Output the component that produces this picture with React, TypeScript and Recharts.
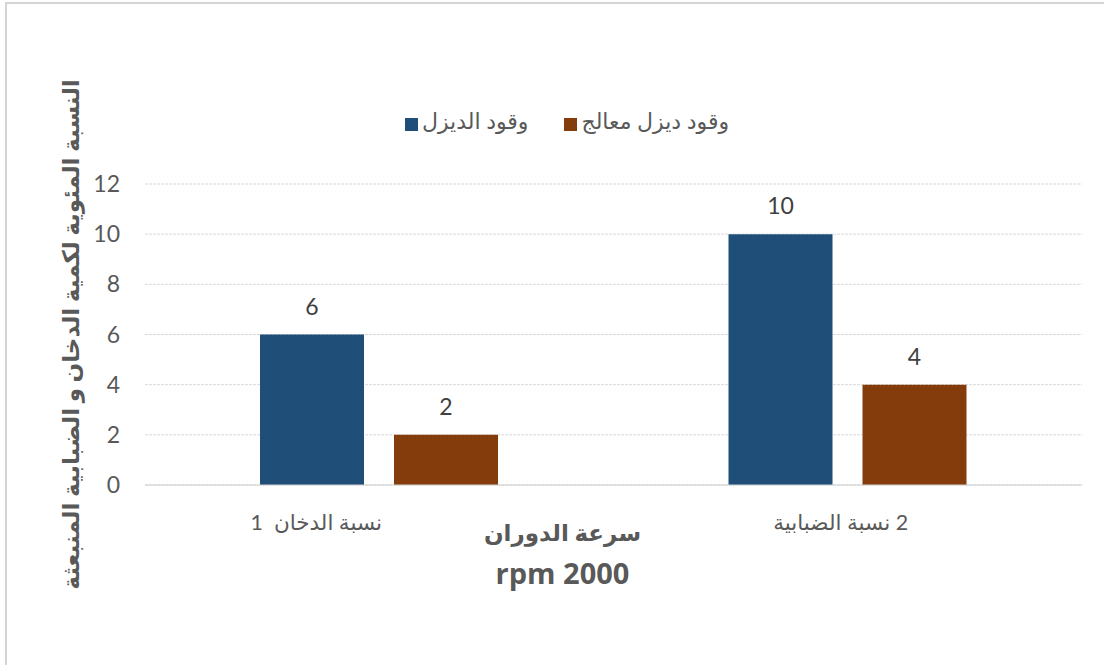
import React from "react";
import {
  Bar,
  BarChart,
  CartesianGrid,
  LabelList,
  Legend,
  XAxis,
  YAxis,
} from "recharts";

// categories as written (rendered right-to-left)
const categories = ["نسبة الدخان  1", "2 نسبة الضبابية"];
const dieselValues = [6, 10];
const treatedValues = [2, 4];
const yTicks = [0, 2, 4, 6, 8, 10, 12];

const seriesNames = ["وقود الديزل", "وقود ديزل معالج"];
const yTitle = "النسبة المئوية لكمية الدخان و الضبابية المنبعثة";
const xTitleLines = ["سرعة الدوران", "rpm 2000"];

const chartData = categories.map((c, i) => ({
  name: c,
  diesel: dieselValues[i],
  treated: treatedValues[i],
}));

const FONT = "Lato, 'DejaVu Sans', sans-serif";
const GRAY = "#595959";

const tickShift = [-63, -7];

function CategoryTick(props: any) {
  const { x, y, payload, index } = props;
  return (
    <text
      x={x + (tickShift[index] ?? 0)}
      y={y + 37}
      textAnchor="middle"
      direction="rtl"
      fill={GRAY}
      fontSize={21.5}
      fontFamily={FONT}
      style={{ whiteSpace: "pre" }}
    >
      {payload.value}
    </text>
  );
}

export default function App() {
  return (
    <div
      style={{
        position: "fixed",
        left: 0,
        top: 0,
        width: 1104,
        height: 665,
        overflow: "hidden",
        background: "#fff",
        fontFamily: FONT,
      }}
    >
      <BarChart
        width={1104}
        height={665}
        data={chartData}
        margin={{ top: 157, right: 22, left: 0, bottom: 150 }}
        barSize={104}
        barGap={30}
      >
        <CartesianGrid
          vertical={false}
          stroke="#d9d9d9"
          strokeDasharray="3 1"
        />
        <XAxis
          dataKey="name"
          height={30}
          axisLine={{ stroke: "#d0d0d0" }}
          tickLine={false}
          tick={<CategoryTick />}
          label={{
            content: (p: any) => {
              const vb = p.viewBox;
              const cx = vb.x + vb.width / 2 - 51;
              return (
                <g>
                  <text
                    x={cx}
                    y={vb.y + 56}
                    textAnchor="middle"
                    direction="rtl"
                    fill={GRAY}
                    fontSize={23}
                    fontWeight="bold"
                    fontFamily={FONT}
                  >
                    {xTitleLines[0]}
                  </text>
                  <text
                    x={cx}
                    y={vb.y + 99}
                    textAnchor="middle"
                    fill={GRAY}
                    fontSize={29}
                    fontWeight="bold"
                    fontFamily="'Open Sans', sans-serif"
                  >
                    {xTitleLines[1]}
                  </text>
                </g>
              );
            },
          }}
        />
        <YAxis
          width={145}
          domain={[0, 12]}
          ticks={yTicks}
          axisLine={false}
          tickLine={false}
          tickSize={0}
          tickMargin={25}
          tick={{ fill: GRAY, fontSize: 23, fontFamily: FONT }}
          label={{
            content: (p: any) => {
              const vb = p.viewBox;
              const cx = vb.x + 70;
              const cy = vb.y + vb.height / 2;
              return (
                <text
                  x={cx}
                  y={cy}
                  transform={`rotate(-90 ${cx} ${cy})`}
                  textAnchor="middle"
                  dominantBaseline="central"
                  direction="rtl"
                  fill={GRAY}
                  fontSize={23}
                  fontWeight="bold"
                  fontFamily={FONT}
                >
                  {yTitle}
                </text>
              );
            },
          }}
        />
        <Legend
          verticalAlign="top"
          iconType="square"
          iconSize={13}
          wrapperStyle={{ top: 107, left: 44 }}
          formatter={(value) => (
            <span style={{ color: GRAY, fontSize: 22, marginRight: 26 }}>
              {value}
            </span>
          )}
        />
        <Bar
          dataKey="diesel"
          name={seriesNames[0]}
          fill="#1F4E79"
          isAnimationActive={false}
        >
          <LabelList
            dataKey="diesel"
            position="top"
            offset={20}
            fill="#404040"
            fontSize={23}
            fontFamily={FONT}
          />
        </Bar>
        <Bar
          dataKey="treated"
          name={seriesNames[1]}
          fill="#843C0C"
          isAnimationActive={false}
        >
          <LabelList
            dataKey="treated"
            position="top"
            offset={20}
            fill="#404040"
            fontSize={23}
            fontFamily={FONT}
          />
        </Bar>
      </BarChart>
      <div
        style={{
          position: "absolute",
          left: 5,
          top: 2,
          width: 1120,
          height: 700,
          borderTop: "2px solid #d4d4d4",
          borderLeft: "2px solid #d4d4d4",
          pointerEvents: "none",
        }}
      />
    </div>
  );
}
